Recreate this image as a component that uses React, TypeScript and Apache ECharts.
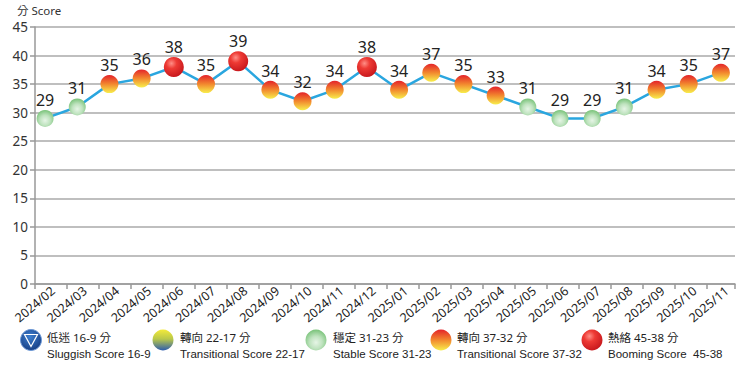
import React, { useEffect, useRef } from 'react';
import * as echarts from 'echarts';

const months = [
  '2024/02', '2024/03', '2024/04', '2024/05', '2024/06', '2024/07', '2024/08', '2024/09',
  '2024/10', '2024/11', '2024/12', '2025/01', '2025/02', '2025/03', '2025/04', '2025/05',
  '2025/06', '2025/07', '2025/08', '2025/09', '2025/10', '2025/11',
];
const scores = [29, 31, 35, 36, 38, 35, 39, 34, 32, 34, 38, 34, 37, 35, 33, 31, 29, 29, 31, 34, 35, 37];
const yMin = 0;
const yMax = 45;
const yStep = 5;
const axisTitle = '分 Score';
const levelZh = ['低迷 16-9 分', '轉向 22-17 分', '穩定 31-23 分', '轉向 37-32 分', '熱絡 45-38 分'];
const levelEn = ['Sluggish Score 16-9', 'Transitional Score 22-17', 'Stable Score 31-23', 'Transitional Score 37-32', 'Booming Score  45-38'];
const levelLow = [9, 17, 23, 32, 38];

const FONT = "'Noto Sans', 'Noto Sans CJK TC', sans-serif";
const LATIN = "'Liberation Sans', Arial, sans-serif";

const fills: any[] = [
  { type: 'radial', x: 0.45, y: 0.35, r: 0.65, colorStops: [{ offset: 0, color: '#3d7fd0' }, { offset: 1, color: '#173f85' }] },
  { type: 'linear', x: 0, y: 0, x2: 0, y2: 1, colorStops: [{ offset: 0, color: '#f4ea3a' }, { offset: 0.45, color: '#b9c84a' }, { offset: 1, color: '#2d5cae' }] },
  { type: 'radial', x: 0.5, y: 0.62, r: 0.6, colorStops: [{ offset: 0, color: '#e6f5e6' }, { offset: 0.5, color: '#bfe3bf' }, { offset: 1, color: '#7cc47c' }] },
  { type: 'linear', x: 0, y: 0, x2: 0, y2: 1, colorStops: [{ offset: 0, color: '#e4232a' }, { offset: 0.5, color: '#f2882e' }, { offset: 1, color: '#f8ef4c' }] },
  { type: 'radial', x: 0.38, y: 0.32, r: 0.75, colorStops: [{ offset: 0, color: '#ff8e86' }, { offset: 0.35, color: '#ee3a34' }, { offset: 1, color: '#c3141a' }] },
];
const sizes = [20, 20, 17, 18, 20];

function levelOf(v: number) {
  let idx = 0;
  for (let i = 0; i < levelLow.length; i++) if (v >= levelLow[i]) idx = i;
  return idx;
}

const legendIconX = [31, 163, 316, 441, 592];
const legendTextX = [47, 180, 333, 457, 608];

export default function App() {
  const ref = useRef<HTMLDivElement>(null);
  useEffect(() => {
    if (!ref.current) return;
    const chart = echarts.init(ref.current, undefined, { renderer: 'svg' });

    const graphics: any[] = [
      { type: 'text', x: 17, y: 10.5, style: { text: axisTitle, fill: '#333', font: `11.5px ${FONT}`, lineHeight: 12, verticalAlign: 'middle' } },
    ];
    levelZh.forEach((zh, i) => {
      graphics.push({
        type: 'circle', shape: { cx: legendIconX[i], cy: 340, r: 10.5 },
        style: { fill: fills[i], stroke: i === 0 ? '#6f9ad6' : 'rgba(0,0,0,0)', lineWidth: 1 },
      });
      if (i === 0) {
        graphics.push({
          type: 'polygon', shape: { points: [[legendIconX[i] - 6.5, 334.5], [legendIconX[i] + 6.5, 334.5], [legendIconX[i], 346.5]] },
          style: { fill: 'none', stroke: '#ffffff', lineWidth: 1.2 },
        });
      }
      graphics.push({ type: 'text', x: legendTextX[i], y: 337.5, style: { text: zh, fill: '#222', font: `11.5px ${FONT}`, lineHeight: 12, verticalAlign: 'middle' } });
      graphics.push({ type: 'text', x: legendTextX[i], y: 353.5, style: { text: levelEn[i], fill: '#222', font: `11.5px ${LATIN}`, lineHeight: 12, verticalAlign: 'middle' } });
    });

    chart.setOption({
      animation: false,
      textStyle: { fontFamily: FONT },
      grid: [
        { left: 35, right: 8, top: 27, bottom: 92 },
        { left: 29, right: 6, top: 27, bottom: 92 },
        { left: 37, right: -2, top: 27, bottom: 92 },
      ],
      xAxis: [
        {
          type: 'value', gridIndex: 0, min: -28, max: 672, interval: 32,
          axisLine: { show: true, onZero: false, lineStyle: { color: '#999', width: 1.5 } },
          axisTick: { show: true, length: 5, lineStyle: { color: '#999', width: 1.5 } },
          axisLabel: { show: false }, splitLine: { show: false },
        },
        {
          type: 'category', gridIndex: 1, data: months, boundaryGap: true,
          axisLine: { show: false }, axisTick: { show: false }, axisLabel: { show: false },
        },
        {
          type: 'category', gridIndex: 2, data: months, boundaryGap: true,
          axisLine: { show: false }, axisTick: { show: false },
          axisLabel: { rotate: 40, interval: 0, margin: 5, fontSize: 12.5, color: '#222', fontFamily: FONT },
        },
      ],
      yAxis: [
        {
          type: 'value', gridIndex: 0, min: yMin, max: yMax, interval: yStep,
          axisLine: { show: true, onZero: false, lineStyle: { color: '#999', width: 1.5 } },
          axisTick: { show: true, length: 5, lineStyle: { color: '#999', width: 1.5 } },
          axisLabel: { fontSize: 13.5, color: '#333', margin: 7, fontFamily: FONT },
          splitLine: { show: true, lineStyle: { color: '#aaa', width: 1.5 } },
        },
        { type: 'value', gridIndex: 1, min: yMin, max: yMax, show: false, splitLine: { show: false } },
        { type: 'value', gridIndex: 2, min: yMin, max: yMax, show: false, splitLine: { show: false } },
      ],
      series: [
        {
          type: 'line', xAxisIndex: 1, yAxisIndex: 1,
          lineStyle: { color: '#2aa6df', width: 2.5 },
          symbol: 'circle',
          data: scores.map((v) => {
            const l = levelOf(v);
            return { value: v, symbolSize: sizes[l], itemStyle: { color: fills[l], borderWidth: 0 } };
          }),
          label: { show: true, position: 'top', distance: 2, fontSize: 16, color: '#222', fontFamily: FONT },
          z: 3,
        },
      ],
      graphic: graphics,
    });
    return () => chart.dispose();
  }, []);
  return <div ref={ref} style={{ position: 'fixed', left: 0, top: 0, width: 743, height: 376, background: '#fff' }} />;
}
